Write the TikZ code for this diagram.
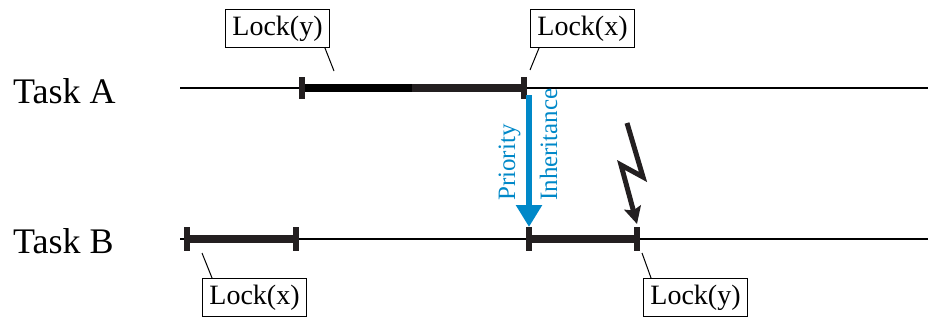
\documentclass[tikz,border=0pt]{standalone}
\usepackage{fontspec}
\setmainfont{Liberation Serif}
\usetikzlibrary{arrows.meta}
\definecolor{barcol}{HTML}{231F20}
\definecolor{prioblue}{HTML}{0088C8}

\tikzset{
	lockbox/.style={draw, line width=0.9pt, inner sep=0pt, minimum width=104pt, minimum height=38pt, font=\fontsize{28}{28}\selectfont},
	tasklabel/.style={anchor=base west, inner sep=0pt, font=\fontsize{36}{36}\selectfont},
	prionote/.style={rotate=90, anchor=base west, inner sep=0pt, text=prioblue, font=\fontsize{25}{25}\selectfont},
	timeline/.style={line width=1.2pt},
	busybar/.style={line width=7.5pt, color=barcol},
	tickmark/.style={line width=6.5pt, color=barcol},
	leader/.style={line width=1pt},
}

\begin{document}
\begin{tikzpicture}[x=1pt, y=-1pt]
			%%%%% START %%%%%
			\useasboundingbox (0, 0) rectangle (928, 321);
			
			\node[tasklabel] (taskA) at (13, 103) {Task A};
			\node[tasklabel] (taskB) at (13, 253) {Task B};
			
			% time lines
			\draw[timeline] (180, 88) -- (928, 88);
			\draw[timeline] (180, 239) -- (928, 239);
			
			% task A holds y, then x
			\draw[busybar, color=black] (302, 88) -- (412, 88);
			\draw[busybar] (412, 88) -- (524, 88);
			\draw[tickmark] (302, 77) coordinate (lyA) -- (302, 99);
			\draw[tickmark] (524, 77) coordinate (lxA) -- (524, 99);
			
			% task B holds x, then y
			\draw[busybar] (187, 239) -- (296, 239);
			\draw[busybar] (529, 239) -- (637, 239);
			\draw[tickmark] (187, 227) -- (187, 251) coordinate (lxB);
			\draw[tickmark] (296, 227) -- (296, 251);
			\draw[tickmark] (529, 227) -- (529, 251);
			\draw[tickmark] (637, 227) -- (637, 251) coordinate (lyB);
			
			% lock labels
			\node[lockbox] (lockyA) at (277.5, 28.5) {Lock(y)};
			\node[lockbox] (lockxA) at (582.5, 28.5) {Lock(x)};
			\node[lockbox] (lockxB) at (254.5, 297.5) {Lock(x)};
			\node[lockbox] (lockyB) at (695.5, 297.5) {Lock(y)};
			
			\coordinate (lyAend) at (334, 71);
			\coordinate (lxAend) at (530, 70);
			\coordinate (lxBend) at (202, 253);
			\coordinate (lyBend) at (642, 253);
			\draw[leader] ([xshift=-5pt]lockyA.south east) -- (lyAend);
			\draw[leader] ([xshift=9pt]lockxA.south west) -- (lxAend);
			\draw[leader] ([xshift=10pt]lockxB.north west) -- (lxBend);
			\draw[leader] ([xshift=8pt]lockyB.north west) -- (lyBend);
			
			% priority inheritance
			\coordinate (inhTop) at (529, 95);
			\coordinate (inhTip) at (529, 227);
			\draw[prioblue, line width=5.5pt, -{Triangle[length=22pt, width=25pt]}] (inhTop) -- (inhTip);
			\node[prionote] (prio) at (515, 201) {Priority};
			\node[prionote] (inh) at (557, 201) {Inheritance};
			
			% preemption
			\coordinate (boltA) at (627, 123);
			\coordinate (boltB) at (643, 177);
			\coordinate (boltC) at (621, 165);
			\coordinate (boltD) at (637, 224);
			\draw[barcol, line width=5pt, line join=miter, -{Stealth[length=17pt, width=17pt, inset=3pt]}] (boltA) -- (boltB) -- (boltC) -- (boltD);
			
			%%%%% END %%%%%
\end{tikzpicture}
\end{document}
